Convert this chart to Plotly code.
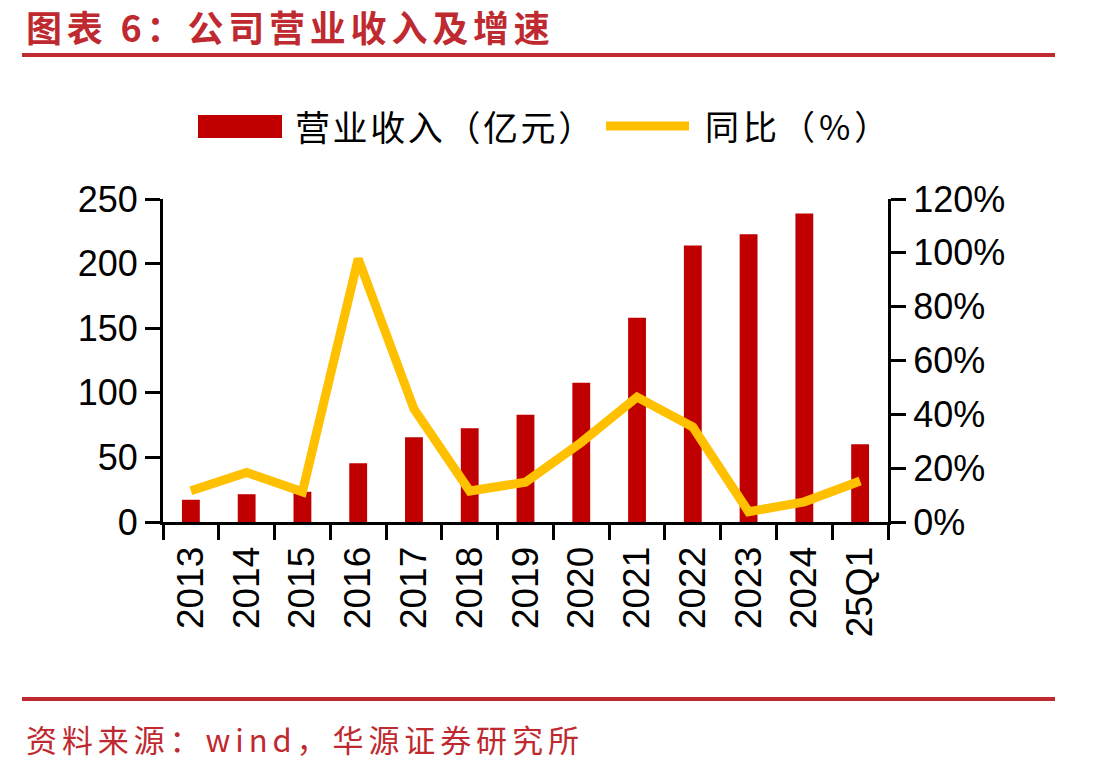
import plotly.graph_objects as go

categories = ["2013", "2014", "2015", "2016", "2017", "2018", "2019",
              "2020", "2021", "2022", "2023", "2024", "25Q1"]
revenue = [17.2, 21.5, 23.4, 45.5, 65.5, 72.5, 83.0, 107.8, 158.0, 214.0, 222.8, 238.7, 60.2]
yoy = [0.116, 0.184, 0.112, 0.978, 0.42, 0.115, 0.148, 0.296, 0.464, 0.353, 0.038, 0.075, 0.152]
left_ticks = [0, 50, 100, 150, 200, 250]
right_ticks = [0, 0.2, 0.4, 0.6, 0.8, 1.0, 1.2]

W, H = 1113, 771
RED = "#BE2A30"
BAR = "#C00000"
GOLD = "#FFC000"
TICKFONT = dict(family="Liberation Sans, Arial, sans-serif", size=36, color="#000000")
XTICKFONT = dict(family="Liberation Sans, Arial, sans-serif", size=37, color="#000000")
CJK = "Noto Sans CJK SC"


def px(x):
    return x / W


def py(y):
    return 1 - y / H


def spaced(text, sp):
    return '<span style="letter-spacing:%.1fpx">%s</span>' % (sp, text)


fig = go.Figure()
fig.add_trace(go.Bar(x=categories, y=revenue, name="营业收入（亿元）",
                     marker=dict(color=BAR, line=dict(width=0)),
                     width=0.32, yaxis="y", showlegend=False))
fig.add_trace(go.Scatter(x=categories, y=yoy, name="同比（%）", mode="lines",
                         line=dict(color=GOLD, width=9), yaxis="y2",
                         showlegend=False))

axis_common = dict(showgrid=False, zeroline=False, showline=True, linecolor="#000000",
                   linewidth=3, ticks="outside", ticklen=15, tickwidth=3,
                   tickcolor="#000000", automargin=False)

fig.update_layout(
    width=W, height=H,
    margin=dict(l=0, r=0, t=0, b=0),
    paper_bgcolor="#FFFFFF", plot_bgcolor="#FFFFFF",
    showlegend=False,
    xaxis=dict(domain=[px(163), px(888)], type="category", range=[-0.5, 12.5],
               tickson="boundaries", tickangle=-90, ticklabelstandoff=7,
               tickfont=XTICKFONT, **axis_common),
    yaxis=dict(domain=[py(522), py(199)], range=[0, 250], tickvals=left_ticks,
               tickfont=TICKFONT, **axis_common),
    yaxis2=dict(overlaying="y", side="right", anchor="x", range=[0, 1.2],
                tickvals=right_ticks, tickformat=".0%", tickfont=TICKFONT, **axis_common),
    bargap=0.68,
)

shapes = [
    # title and footer rules
    dict(type="line", xref="paper", yref="paper", x0=px(22), x1=px(1055), y0=py(55), y1=py(55),
         line=dict(color=RED, width=4)),
    dict(type="line", xref="paper", yref="paper", x0=px(22), x1=px(1055), y0=py(699), y1=py(699),
         line=dict(color=RED, width=4)),
    # legend symbols
    dict(type="rect", xref="paper", yref="paper", x0=px(198), x1=px(282), y0=py(138), y1=py(115),
         fillcolor=BAR, line=dict(width=0)),
    dict(type="line", xref="paper", yref="paper", x0=px(606), x1=px(689), y0=py(126), y1=py(126),
         line=dict(color=GOLD, width=9)),
]
fig.update_layout(shapes=shapes)

annotations = [
    dict(text="<b>" + spaced("图表 6：公司营业收入及增速", 4.8) + "</b>", xref="paper", yref="paper",
         x=px(25), y=py(26.5), xanchor="left", yanchor="middle", showarrow=False, borderpad=0,
         font=dict(family=CJK, size=36, color=RED)),
    dict(text=spaced("资料来源：wind，华源证券研究所", 4.9), xref="paper", yref="paper",
         x=px(24), y=py(738), xanchor="left", yanchor="middle", showarrow=False,
         font=dict(family=CJK, size=31, color=RED)),
    dict(text=spaced("营业收入（亿元）", 2.6), xref="paper", yref="paper", x=px(293), y=py(126),
         xanchor="left", yanchor="middle", showarrow=False,
         font=dict(family=CJK, size=35, color="#000000")),
    dict(text=spaced("同比（%）", 4), xref="paper", yref="paper", x=px(703), y=py(126),
         xanchor="left", yanchor="middle", showarrow=False,
         font=dict(family=CJK, size=34, color="#000000")),
]
fig.update_layout(annotations=annotations)

fig.write_html("out.html")
